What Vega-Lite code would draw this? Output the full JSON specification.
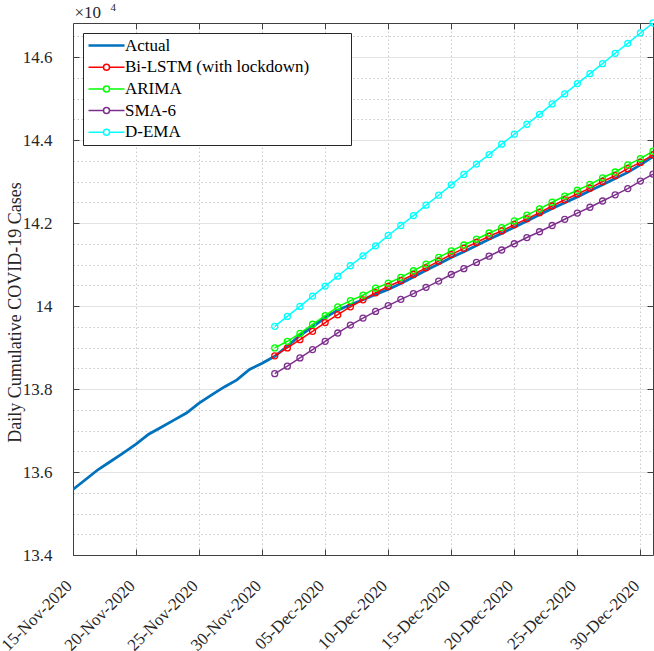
{
  "$schema": "https://vega.github.io/schema/vega-lite/v6.json",
  "width": 580,
  "height": 532,
  "autosize": {"type": "none"},
  "padding": {"left": 73, "top": 23, "right": 1, "bottom": 96},
  "background": "white",
  "config": {
    "font": "Liberation Serif",
    "view": {"stroke": null},
    "axis": {
      "domainColor": "#404040",
      "domainWidth": 1,
      "tickColor": "#404040",
      "tickWidth": 1,
      "labelColor": "#262626",
      "labelFont": "Liberation Serif",
      "titleFont": "Liberation Serif"
    },
    "legend": {"labelFont": "Liberation Serif"}
  },
  "data": {
    "values": [
      {"date": "2020-11-15", "Actual": 135580},
      {"date": "2020-11-16", "Actual": 135820},
      {"date": "2020-11-17", "Actual": 136060},
      {"date": "2020-11-18", "Actual": 136260},
      {"date": "2020-11-19", "Actual": 136460},
      {"date": "2020-11-20", "Actual": 136670},
      {"date": "2020-11-21", "Actual": 136910},
      {"date": "2020-11-22", "Actual": 137080},
      {"date": "2020-11-23", "Actual": 137250},
      {"date": "2020-11-24", "Actual": 137420},
      {"date": "2020-11-25", "Actual": 137660},
      {"date": "2020-11-26", "Actual": 137860},
      {"date": "2020-11-27", "Actual": 138050},
      {"date": "2020-11-28", "Actual": 138220},
      {"date": "2020-11-29", "Actual": 138470},
      {"date": "2020-11-30", "Actual": 138620},
      {"date": "2020-12-01", "Actual": 138790, "Bi-LSTM (with lockdown)": 138800, "ARIMA": 138990, "SMA-6": 138370, "D-EMA": 139510},
      {"date": "2020-12-02", "Actual": 139030, "Bi-LSTM (with lockdown)": 138990, "ARIMA": 139150, "SMA-6": 138550, "D-EMA": 139750},
      {"date": "2020-12-03", "Actual": 139290, "Bi-LSTM (with lockdown)": 139190, "ARIMA": 139340, "SMA-6": 138750, "D-EMA": 139990},
      {"date": "2020-12-04", "Actual": 139500, "Bi-LSTM (with lockdown)": 139390, "ARIMA": 139560, "SMA-6": 138950, "D-EMA": 140240},
      {"date": "2020-12-05", "Actual": 139720, "Bi-LSTM (with lockdown)": 139600, "ARIMA": 139770, "SMA-6": 139150, "D-EMA": 140480},
      {"date": "2020-12-06", "Actual": 139900, "Bi-LSTM (with lockdown)": 139790, "ARIMA": 139980, "SMA-6": 139350, "D-EMA": 140720},
      {"date": "2020-12-07", "Actual": 140030, "Bi-LSTM (with lockdown)": 139980, "ARIMA": 140130, "SMA-6": 139540, "D-EMA": 140970},
      {"date": "2020-12-08", "Actual": 140150, "Bi-LSTM (with lockdown)": 140150, "ARIMA": 140260, "SMA-6": 139710, "D-EMA": 141210},
      {"date": "2020-12-09", "Actual": 140280, "Bi-LSTM (with lockdown)": 140320, "ARIMA": 140430, "SMA-6": 139870, "D-EMA": 141450},
      {"date": "2020-12-10", "Actual": 140400, "Bi-LSTM (with lockdown)": 140470, "ARIMA": 140550, "SMA-6": 140010, "D-EMA": 141700},
      {"date": "2020-12-11", "Actual": 140540, "Bi-LSTM (with lockdown)": 140610, "ARIMA": 140690, "SMA-6": 140160, "D-EMA": 141940},
      {"date": "2020-12-12", "Actual": 140700, "Bi-LSTM (with lockdown)": 140760, "ARIMA": 140850, "SMA-6": 140300, "D-EMA": 142180},
      {"date": "2020-12-13", "Actual": 140860, "Bi-LSTM (with lockdown)": 140920, "ARIMA": 141010, "SMA-6": 140450, "D-EMA": 142430},
      {"date": "2020-12-14", "Actual": 141010, "Bi-LSTM (with lockdown)": 141080, "ARIMA": 141170, "SMA-6": 140600, "D-EMA": 142670},
      {"date": "2020-12-15", "Actual": 141170, "Bi-LSTM (with lockdown)": 141240, "ARIMA": 141330, "SMA-6": 140760, "D-EMA": 142920},
      {"date": "2020-12-16", "Actual": 141310, "Bi-LSTM (with lockdown)": 141390, "ARIMA": 141470, "SMA-6": 140900, "D-EMA": 143170},
      {"date": "2020-12-17", "Actual": 141460, "Bi-LSTM (with lockdown)": 141530, "ARIMA": 141610, "SMA-6": 141050, "D-EMA": 143420},
      {"date": "2020-12-18", "Actual": 141610, "Bi-LSTM (with lockdown)": 141680, "ARIMA": 141760, "SMA-6": 141200, "D-EMA": 143650},
      {"date": "2020-12-19", "Actual": 141750, "Bi-LSTM (with lockdown)": 141810, "ARIMA": 141890, "SMA-6": 141350, "D-EMA": 143900},
      {"date": "2020-12-20", "Actual": 141900, "Bi-LSTM (with lockdown)": 141960, "ARIMA": 142050, "SMA-6": 141500, "D-EMA": 144140},
      {"date": "2020-12-21", "Actual": 142050, "Bi-LSTM (with lockdown)": 142100, "ARIMA": 142190, "SMA-6": 141650, "D-EMA": 144380},
      {"date": "2020-12-22", "Actual": 142200, "Bi-LSTM (with lockdown)": 142250, "ARIMA": 142340, "SMA-6": 141790, "D-EMA": 144620},
      {"date": "2020-12-23", "Actual": 142350, "Bi-LSTM (with lockdown)": 142410, "ARIMA": 142500, "SMA-6": 141940, "D-EMA": 144870},
      {"date": "2020-12-24", "Actual": 142490, "Bi-LSTM (with lockdown)": 142560, "ARIMA": 142650, "SMA-6": 142090, "D-EMA": 145110},
      {"date": "2020-12-25", "Actual": 142630, "Bi-LSTM (with lockdown)": 142700, "ARIMA": 142790, "SMA-6": 142240, "D-EMA": 145360},
      {"date": "2020-12-26", "Actual": 142780, "Bi-LSTM (with lockdown)": 142840, "ARIMA": 142930, "SMA-6": 142380, "D-EMA": 145600},
      {"date": "2020-12-27", "Actual": 142920, "Bi-LSTM (with lockdown)": 143000, "ARIMA": 143090, "SMA-6": 142530, "D-EMA": 145840},
      {"date": "2020-12-28", "Actual": 143070, "Bi-LSTM (with lockdown)": 143140, "ARIMA": 143230, "SMA-6": 142680, "D-EMA": 146090},
      {"date": "2020-12-29", "Actual": 143220, "Bi-LSTM (with lockdown)": 143310, "ARIMA": 143400, "SMA-6": 142830, "D-EMA": 146330},
      {"date": "2020-12-30", "Actual": 143400, "Bi-LSTM (with lockdown)": 143460, "ARIMA": 143550, "SMA-6": 143010, "D-EMA": 146580},
      {"date": "2020-12-31", "Actual": 143600, "Bi-LSTM (with lockdown)": 143640, "ARIMA": 143730, "SMA-6": 143180, "D-EMA": 146820}
    ]
  },
  "transform": [
    {"fold": ["Actual", "Bi-LSTM (with lockdown)", "ARIMA", "SMA-6", "D-EMA"], "as": ["series", "cases"]},
    {"filter": "isValid(datum.cases)"}
  ],
  "layer": [
    {
      "transform": [{"filter": "datum.series === 'Actual'"}],
      "mark": {"type": "line", "strokeWidth": 2.8, "clip": true},
      "encoding": {
        "x": {
          "field": "date", "type": "temporal",
          "scale": {"type": "utc", "domain": [{"year": 2020, "month": 11, "date": 15, "utc": true}, {"year": 2020, "month": 12, "date": 31, "utc": true}]},
          "axis": {
            "orient": "bottom",
            "title": null,
            "values": [
              {"year": 2020, "month": 11, "date": 15, "utc": true},
              {"year": 2020, "month": 11, "date": 20, "utc": true},
              {"year": 2020, "month": 11, "date": 25, "utc": true},
              {"year": 2020, "month": 11, "date": 30, "utc": true},
              {"year": 2020, "month": 12, "date": 5, "utc": true},
              {"year": 2020, "month": 12, "date": 10, "utc": true},
              {"year": 2020, "month": 12, "date": 15, "utc": true},
              {"year": 2020, "month": 12, "date": 20, "utc": true},
              {"year": 2020, "month": 12, "date": 25, "utc": true},
              {"year": 2020, "month": 12, "date": 30, "utc": true}
            ],
            "labelExpr": "utcFormat(datum.value, '%d-%b-%Y')",
            "labelFont": "Liberation Serif",
            "labelAngle": -45,
            "labelAlign": "right",
            "labelBaseline": "middle",
            "labelFontSize": 17,
            "labelPadding": 34,
            "labelOffset": -4,
            "labelOverlap": false,
            "labelFlush": false,
            "tickSize": -6,
            "grid": true,
            "gridColor": "#c8c8c8",
            "gridDash": [1.5, 2.5],
            "gridWidth": 1
          }
        },
        "y": {
          "field": "cases", "type": "quantitative",
          "scale": {"domain": [134000, 146820], "nice": false, "zero": false},
          "axis": {
            "orient": "left",
            "values": [134000, 134500, 135000, 135500, 136000, 136500, 137000, 137500, 138000, 138500, 139000, 139500, 140000, 140500, 141000, 141500, 142000, 142500, 143000, 143500, 144000, 144500, 145000, 145500, 146000, 146500],
            "labelExpr": "datum.value % 2000 === 0 ? format(datum.value / 10000, '~g') : ''",
            "labelFont": "Liberation Serif",
            "labelFontSize": 17,
            "labelPadding": 27,
            "tickSize": -6,
            "tickOpacity": {"condition": {"test": "datum.value % 2000 === 0", "value": 1}, "value": 0},
            "grid": true,
            "gridColor": {"condition": {"test": "datum.value % 2000 === 0", "value": "#e3e3e3"}, "value": "#c8c8c8"},
            "gridDash": {"condition": {"test": "datum.value % 2000 === 0", "value": []}, "value": [1.5, 2.5]},
            "title": "Daily Cumulative COVID-19 Cases",
            "titleFontSize": 18,
            "titleFontWeight": "normal",
            "titleColor": "#262626",
            "titleAngle": -90,
            "titleAlign": "center",
            "titleBaseline": "middle",
            "titleX": -58,
            "titleY": 289
          }
        },
        "color": {
          "field": "series", "type": "nominal",
          "scale": {
            "domain": ["Actual", "Bi-LSTM (with lockdown)", "ARIMA", "SMA-6", "D-EMA"],
            "range": ["#0072BD", "#FF0000", "#00FF00", "#7E2F8E", "#00FFFF"]
          },
          "legend": {
            "title": null,
            "orient": "top-left",
            "offset": 10,
            "fillColor": "white",
            "strokeColor": "#262626",
            "padding": 4,
            "labelFont": "Liberation Serif",
            "labelFontSize": 17,
            "labelColor": "black",
            "labelLimit": 400,
            "symbolSize": 144,
            "symbolOffset": 11,
            "labelOffset": 10,
            "rowPadding": 3.7,
            "encode": {
              "symbols": {
                "update": {
                  "shape": {"signal": "datum.value === 'Actual' ? 'M-3,0L3,0M39.2,0' : 'M-3,0L-0.5,0M0.5,0L3,0M0.5,0A0.5,0.5 0 1,1 -0.5,0A0.5,0.5 0 1,1 0.5,0M39.2,0'"},
                  "strokeWidth": {"signal": "datum.value === 'Actual' ? 2.6 : 1.5"},
                  "fill": {"value": "transparent"}
                }
              }
            }
          }
        }
      }
    },
    {
      "transform": [{"filter": "datum.series !== 'Actual'"}],
      "mark": {"type": "line", "strokeWidth": 1.5, "clip": true},
      "encoding": {
        "x": {"field": "date", "type": "temporal", "axis": null},
        "y": {"field": "cases", "type": "quantitative", "axis": null},
        "color": {"field": "series", "type": "nominal"}
      }
    },
    {
      "transform": [{"filter": "datum.series !== 'Actual'"}],
      "mark": {"type": "point", "shape": "circle", "filled": false, "size": 36, "strokeWidth": 1.3, "opacity": 1},
      "encoding": {
        "x": {
          "field": "date", "type": "temporal",
          "axis": {
            "orient": "top",
            "title": "×10",
            "titleFont": "Liberation Serif",
            "titleFontSize": 17,
            "titleFontWeight": "normal",
            "titleColor": "#262626",
            "titleAlign": "left",
            "titleBaseline": "alphabetic",
            "titleAngle": 0,
            "titleX": 1,
            "titleY": -6,
            "labels": false,
            "grid": false,
            "tickSize": -6,
            "values": [
              {"year": 2020, "month": 11, "date": 20, "utc": true},
              {"year": 2020, "month": 11, "date": 25, "utc": true},
              {"year": 2020, "month": 11, "date": 30, "utc": true},
              {"year": 2020, "month": 12, "date": 5, "utc": true},
              {"year": 2020, "month": 12, "date": 10, "utc": true},
              {"year": 2020, "month": 12, "date": 15, "utc": true},
              {"year": 2020, "month": 12, "date": 20, "utc": true},
              {"year": 2020, "month": 12, "date": 25, "utc": true},
              {"year": 2020, "month": 12, "date": 30, "utc": true}
            ]
          }
        },
        "y": {
          "field": "cases", "type": "quantitative",
          "axis": {
            "orient": "right",
            "title": "4",
            "titleFont": "Liberation Serif",
            "titleFontSize": 11,
            "titleFontWeight": "normal",
            "titleColor": "#262626",
            "titleAlign": "left",
            "titleBaseline": "alphabetic",
            "titleAngle": 0,
            "titleX": -543,
            "titleY": -13,
            "labels": false,
            "grid": false,
            "tickSize": -6,
            "values": [136000, 138000, 140000, 142000, 144000, 146000]
          }
        },
        "color": {"field": "series", "type": "nominal", "legend": null}
      }
    }
  ]
}
